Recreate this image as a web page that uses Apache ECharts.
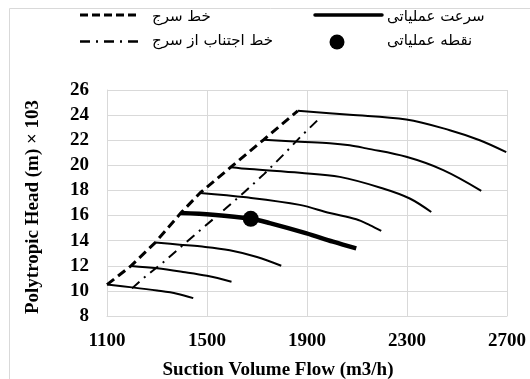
<!DOCTYPE html>
<html>
<head>
<meta charset="utf-8">
<script src="https://cdn.jsdelivr.net/npm/echarts@6/dist/echarts.min.js"></script>
<style>html,body{margin:0;padding:0;background:#fff;}#c{width:530px;height:379px;}</style>
</head>
<body>
<div id="c"></div>
<script>
// Speed lines (flow m3/h, head ×10^3 m)
var speed1 = [[1100,10.5],[1200,10.28],[1300,10.03],[1380,9.78],[1445,9.42]];
var speed2 = [[1196,11.99],[1300,11.8],[1404,11.51],[1500,11.2],[1598,10.73]];
var speed3 = [[1293,13.85],[1391,13.68],[1471,13.55],[1591,13.24],[1700,12.7],[1797,12.0]];
var speedOperating = [[1395,16.2],[1523,16.07],[1675,15.75],[1751,15.4],[1895,14.6],[2004,13.92],[2097,13.38]];
var speed5 = [[1472,17.8],[1657,17.45],[1871,16.85],[1991,16.2],[2097,15.7],[2151,15.24],[2197,14.78]];
var speed6 = [[1595,19.85],[1671,19.7],[1871,19.4],[2031,19.08],[2204,18.16],[2311,17.36],[2397,16.28]];
var speed7 = [[1726,22.03],[1871,21.87],[1991,21.76],[2071,21.6],[2137,21.35],[2297,20.68],[2445,19.62],[2597,17.97]];
var speed8 = [[1863,24.34],[2071,24.03],[2297,23.65],[2471,22.8],[2591,22.0],[2697,21.05]];
var surgeLine = [[1100,10.5],[1196,11.99],[1293,13.85],[1395,16.2],[1472,17.8],[1595,19.85],[1726,22.03],[1863,24.34]];
var surgeAvoidLine = [[1200,10.2],[1244,10.99],[1331,12.37],[1411,13.78],[1571,16.5],[1651,17.89],[1728,19.3],[1804,20.81],[1877,22.33],[1954,23.82]];
var operatingPoint = [[1675,15.74]];
var legendLabels = ['خط سرج','خط اجتناب از سرج','سرعت عملیاتی','نقطه عملیاتی'];
var xTitle = 'Suction Volume Flow (m3/h)';
var yTitle = 'Polytropic Head (m) × 103';

var chart = echarts.init(document.getElementById('c'), null, {renderer:'canvas'});
var serifBold = {fontFamily:'Liberation Serif', fontWeight:'bold', fontSize:19, color:'#000'};
var thinCurves = [speed1, speed2, speed3, speed5, speed6, speed7, speed8];
var series = [];
thinCurves.forEach(function(d){
  series.push({type:'line', data:d, smooth:0.35, symbol:'none', lineStyle:{color:'#000', width:2}, z:3});
});
series.push({type:'line', data:speedOperating, smooth:0.35, symbol:'none', lineStyle:{color:'#000', width:4.5}, z:4});
series.push({type:'line', data:surgeLine, symbol:'none', lineStyle:{color:'#000', width:3, type:[9,5]}, z:5});
series.push({type:'line', data:surgeAvoidLine, symbol:'none', lineStyle:{color:'#000', width:2, type:[10,6,2,6]}, z:5});
series.push({type:'scatter', data:operatingPoint, symbol:'circle', symbolSize:16, itemStyle:{color:'#000', opacity:1}, z:6});

var legendFont = {fontFamily:'DejaVu Serif, DejaVu Sans', fontSize:15, fill:'#000'};
chart.setOption({
  animation:false,
  backgroundColor:'#fff',
  grid:{left:107, top:90, width:400, height:226, containLabel:false},
  xAxis:{type:'value', min:1100, max:2700, interval:400,
    axisLine:{show:true, lineStyle:{color:'#d9d9d9', width:1}},
    axisTick:{show:false},
    splitLine:{show:true, lineStyle:{color:'#d9d9d9', width:1}},
    axisLabel:Object.assign({margin:16, formatter:function(v){return String(v);}}, serifBold)},
  yAxis:{type:'value', min:8, max:26, interval:2,
    axisLine:{show:true, lineStyle:{color:'#d9d9d9', width:1}},
    axisTick:{show:false},
    splitLine:{show:true, lineStyle:{color:'#d9d9d9', width:1}},
    axisLabel:Object.assign({margin:18, formatter:function(v){return String(v);}}, serifBold)},
  series:series,
  graphic:[
    {type:'rect', shape:{x:9.5, y:8.5, width:700, height:600}, style:{fill:'none', stroke:'#d9d9d9', lineWidth:1}, silent:true},
    {type:'text', x:278, y:370, style:{text:xTitle, font:'bold 19px "Liberation Serif"', fill:'#000', textAlign:'center', textVerticalAlign:'middle'}},
    {type:'text', x:33, y:207, rotation:Math.PI/2, style:{text:yTitle, font:'bold 19px "Liberation Serif"', fill:'#000', textAlign:'center', textVerticalAlign:'middle'}},
    {type:'line', shape:{x1:80, y1:15, x2:140, y2:15}, style:{stroke:'#000', lineWidth:3, lineDash:[8,4]}},
    {type:'line', shape:{x1:80, y1:41.5, x2:140, y2:41.5}, style:{stroke:'#000', lineWidth:2.5, lineDash:[10,6,2,6]}},
    {type:'line', shape:{x1:315, y1:15, x2:382, y2:15}, style:{stroke:'#000', lineWidth:3.5, lineCap:'round'}},
    {type:'circle', shape:{cx:337, cy:42, r:7.5}, style:{fill:'#000'}},
    {type:'text', x:152, y:17, style:Object.assign({text:legendLabels[0], textAlign:'left', textVerticalAlign:'middle'}, legendFont)},
    {type:'text', x:152, y:41, style:Object.assign({text:legendLabels[1], textAlign:'left', textVerticalAlign:'middle'}, legendFont)},
    {type:'text', x:387, y:17, style:Object.assign({text:legendLabels[2], textAlign:'left', textVerticalAlign:'middle'}, legendFont)},
    {type:'text', x:387, y:41, style:Object.assign({text:legendLabels[3], textAlign:'left', textVerticalAlign:'middle'}, legendFont)}
  ]
});
</script>
</body>
</html>
